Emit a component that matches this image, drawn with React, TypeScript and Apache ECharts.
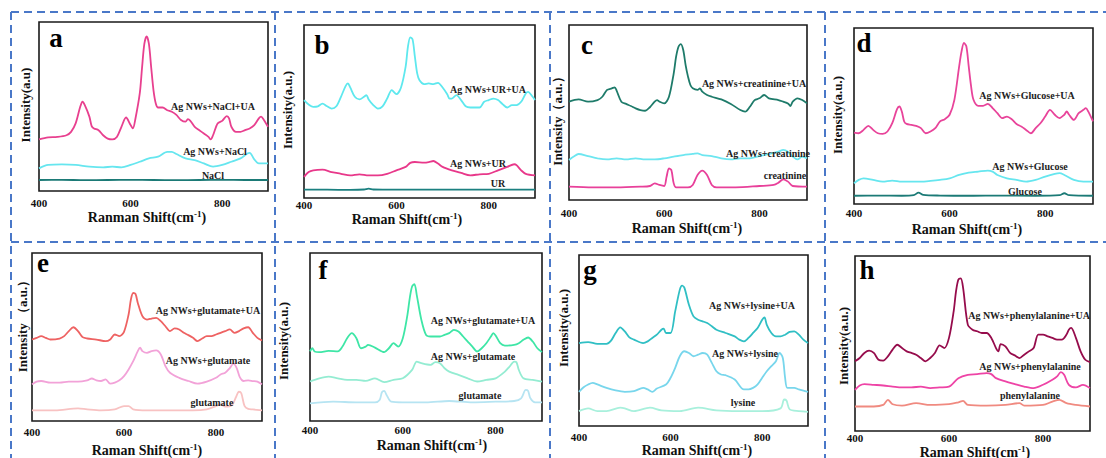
import React, { useEffect, useRef } from 'react';
import * as echarts from 'echarts';

const FONT = 'Liberation Serif, Times New Roman, serif';
const xTickValues = [400, 600, 800];

// ---------- panel a ----------
const aUA = [[400,30.5],[420,31.7],[440,32],[460,33],[470,35],[480,40],[490,49.8],[495,52.8],[500,50.8],[510,44],[515,38.4],[520,37],[530,36],[540,33],[550,31],[560,30.5],[570,32],[580,38],[590,43.5],[600,39],[605,37],[610,42],[620,57.7],[625,73],[630,87],[635,91.5],[640,87],[645,73],[650,59.6],[655,51.8],[660,49.4],[670,49.4],[680,47.8],[690,46.9],[700,45],[710,42],[720,41],[725,42.5],[730,41.7],[740,38],[750,36],[760,34],[770,32],[775,30.5],[780,33],[790,40],[800,41.5],[810,44.3],[815,43],[820,38],[830,35],[840,35],[850,36],[860,37],[870,39],[880,43],[885,44],[890,42.5],[900,38]];
const aNaClAg = [[400,13.4],[420,15.4],[450,15.7],[480,15.4],[510,14.4],[540,14],[560,14.4],[580,14],[600,15.4],[620,17.3],[640,19.3],[660,20.3],[680,23.2],[690,23.2],[700,21.9],[720,19.3],[740,18.3],[760,16.3],[780,14.4],[800,15.4],[820,17.3],[840,19.3],[855,22.2],[860,22.6],[870,18.7],[880,16.3],[900,16.3]];
const aNaCl = [[400,6.5],[450,6.6],[500,6.4],[550,6.5],[600,6.6],[650,6.5],[700,6.4],[750,6.5],[800,6.6],[850,6.5],[900,6.5]];

// ---------- panel b ----------
const bUA = [[400,56.6],[420,52.7],[430,53],[440,54.6],[450,53],[460,51.7],[470,53],[480,58.5],[490,64.7],[495,66.2],[500,63.9],[510,58.5],[520,57],[530,58.5],[535,59.5],[540,57],[550,53.7],[560,51.7],[570,53],[580,57.5],[590,62.4],[600,60],[610,63.9],[620,75.9],[625,87.5],[630,92.9],[635,91.7],[640,81.7],[645,72],[650,68],[660,65.8],[670,66.2],[680,65.8],[690,66.6],[700,63.9],[710,60],[715,57.5],[720,57.5],[730,59.5],[740,56.6],[750,53],[760,52.3],[780,52.3],[790,55.6],[800,56.6],[810,57.5],[820,56.6],[830,54.2],[840,52.3],[850,53.7],[860,53.7],[870,55.6],[880,60.4],[885,61.4],[895,58.5],[900,56.6]];
const bURAg = [[400,12.2],[410,15],[420,16],[440,16.4],[460,15],[480,14],[500,13.1],[520,13.7],[540,13.1],[560,13.1],[580,14],[600,16],[620,18],[630,20.3],[640,20.8],[660,20.5],[670,20.8],[680,21.4],[690,19.9],[700,18],[720,16],[740,14.5],[760,13.1],[780,13.7],[800,14],[820,16],[840,18],[855,19.5],[860,19],[870,16],[880,14],[900,13.1]];
const bUR = [[400,4.8],[450,4.8],[500,4.7],[530,4.9],[540,5.4],[550,4.9],[600,4.8],[700,4.8],[800,4.8],[900,4.8]];

// ---------- panel c ----------
const cUA = [[400,56.2],[420,57.5],[440,56.2],[460,57.1],[470,59],[480,62.9],[490,63.8],[496,64.4],[500,62.5],[510,56.2],[520,54.9],[530,53.7],[540,52.4],[550,51.4],[560,51],[570,53],[580,56.2],[585,57.1],[590,56.2],[600,55.2],[610,59],[620,72.4],[625,81.9],[630,87.6],[635,89.1],[640,85.7],[645,77.1],[650,70.5],[655,65.7],[660,63.8],[670,62.9],[675,63.8],[680,61.9],[690,60],[700,59],[720,57.5],[740,54.9],[760,51.4],[770,50.5],[780,53.3],[790,57.1],[800,58.1],[810,60],[820,58.1],[840,57.1],[850,56.2],[860,55.2],[865,53.7],[870,56.2],[880,58.1],[890,57.1],[900,55.2]];
const cCreAg = [[400,22.9],[410,24.8],[420,26.3],[440,25.1],[460,23.8],[480,23.2],[500,23.8],[520,23.2],[540,23.8],[560,23.2],[580,23.2],[600,23.8],[620,24.8],[640,25.7],[660,26.3],[670,26.7],[680,25.7],[700,25.1],[720,23.8],[740,23.2],[760,23.8],[780,23.8],[800,25.1],[820,26.3],[840,27.6],[850,28.6],[860,27.6],[870,24.8],[880,23.2],[890,24.8],[900,23.8]];
const cCre = [[400,7.6],[450,7.2],[500,7.2],[550,7.6],[570,8],[580,9.5],[590,8.6],[600,8],[605,13.3],[610,18.1],[615,17.1],[620,9.5],[625,7.2],[650,7.2],[660,8.6],[670,14.3],[680,16.8],[690,14.3],[700,8.6],[710,7.2],[750,7.2],[800,8],[830,8.6],[840,9.9],[850,11.8],[860,10.5],[870,8],[900,7.6]];

// ---------- panel d ----------
const dUA = [[400,40.6],[410,40.2],[420,42.1],[430,44.4],[440,42.1],[450,40.2],[460,39.8],[470,41.2],[480,45.9],[490,53.9],[495,55.4],[500,52.6],[505,46.9],[510,45.5],[520,45],[530,44.4],[540,43.1],[550,40.2],[560,41.2],[570,43.1],[580,46.9],[590,48.2],[600,50.7],[610,59.2],[620,78.2],[625,86.7],[630,91.5],[635,89.6],[640,78.2],[645,66.8],[650,59.2],[660,55.8],[670,55.8],[680,56.9],[690,54.5],[700,51.6],[710,48.8],[720,49.7],[730,48.2],[740,45.5],[750,44],[760,42.1],[770,40.2],[780,43.1],[790,45.9],[800,49.7],[810,53.5],[820,50.7],[830,48.8],[840,50.7],[845,52.6],[850,50.7],[860,47.8],[870,51.6],[880,53.5],[885,54.5],[890,52.6],[900,46.9]];
const dGluAg = [[400,11.8],[410,13.7],[420,14.6],[440,13.7],[460,12.7],[480,13.3],[500,12.7],[520,12.7],[540,12.7],[560,13.1],[580,13.7],[600,14.6],[620,16.5],[640,17.8],[660,18.4],[680,19],[690,18.4],[700,16.5],[720,14.6],[740,13.7],[760,12.7],[780,13.7],[800,15.6],[820,17.1],[830,17.5],[840,16.5],[860,13.7],[880,12.7],[900,12.7]];
const dGlu = [[400,4.7],[450,4.8],[500,4.7],[525,5],[535,6.5],[545,5.2],[580,4.8],[650,4.7],[700,4.8],[780,4.7],[830,5],[840,6.1],[850,5],[900,4.7]];

// ---------- panel e ----------
const eUA = [[400,48.5],[410,49.5],[420,50.5],[430,49.5],[440,48.5],[460,49.1],[470,50.5],[480,53.5],[490,55.8],[500,53.5],[510,49.9],[520,49.1],[540,48.5],[560,47.5],[570,48.5],[580,51.5],[590,50.5],[600,53.1],[610,63.4],[615,72.3],[620,76.2],[625,75.6],[630,70.3],[640,62.4],[650,60.4],[660,61],[670,61.4],[680,59.4],[690,56.4],[700,53.5],[710,55.1],[720,54.5],[730,52.5],[740,51.1],[750,49.5],[760,47.5],[770,49.1],[780,50.5],[790,50.5],[800,51.5],[810,52.5],[820,53.5],[830,54.5],[840,52.5],[850,53.5],[860,55.1],[870,55.8],[880,52.5],[890,49.5],[900,47.9]];
const eGluAg = [[400,21.8],[410,23.4],[420,23.8],[440,22.8],[460,22.8],[480,23.4],[500,23.4],[520,24.2],[530,25.3],[540,24.2],[550,23.8],[560,24.8],[570,22.2],[580,22.8],[590,24.2],[600,26.7],[610,30.7],[620,35.6],[630,41.6],[635,43.6],[640,41.6],[650,40.6],[660,41.6],[670,42],[680,39.6],[690,32.7],[700,28.7],[720,25.7],[740,23.8],[760,22.2],[780,23.4],[800,25.7],[810,27.7],[820,28.7],[830,31.5],[838,34.1],[845,31.5],[852,26],[860,23.8],[870,24.2],[880,23.8],[890,23.4],[900,21.8]];
const eGlu = [[400,6.3],[450,6.3],[500,7.5],[520,6.9],[550,6.3],[580,6.9],[600,8.9],[610,8.9],[620,6.9],[650,6.3],[700,6.3],[750,6.3],[780,6.9],[800,8.9],[810,9.9],[820,8.5],[835,9.5],[843,14],[850,17.4],[855,16.5],[862,9],[870,7.2],[880,6.9],[900,6.3]];

// ---------- panel f ----------
const fUA = [[400,41.4],[405,43.3],[410,41.4],[420,41],[440,41.7],[460,41.4],[470,44.3],[480,49.3],[490,52.3],[500,49.3],[510,43.3],[520,44.3],[525,45.3],[540,43.7],[560,41],[570,43.3],[580,46.3],[590,44.3],[600,49.3],[610,63.2],[615,73.2],[620,80.1],[625,81.5],[630,75.1],[640,60.2],[650,51.3],[660,50.3],[680,50.3],[690,51.3],[700,52.3],[710,54.3],[720,53.3],[730,50.3],[740,47.3],[750,44.3],[760,41.4],[770,43.3],[780,46.3],[790,50.3],[795,52.3],[800,50.9],[810,46.3],[820,44.9],[840,45.3],[850,46.3],[860,48.3],[870,49.7],[880,47.3],[890,43.3],[900,41]];
const fGluAg = [[400,23.5],[420,25.4],[440,26.4],[460,25.4],[480,24.5],[500,24.5],[520,23.9],[540,25.4],[560,23.1],[580,24.5],[600,25.4],[620,30.4],[630,35.4],[640,34.4],[660,33.4],[670,35],[680,34.4],[690,31.4],[700,29.4],[720,27.4],[740,25.4],[760,23.5],[780,24.5],[800,25.4],[820,29.4],[830,32.4],[840,35.4],[845,35],[850,30.4],[860,25.4],[880,24.5],[900,23.5]];
const fGlu = [[400,10.5],[450,11.5],[500,11.1],[540,11.1],[550,12.5],[555,17.1],[560,17.9],[565,15.5],[575,11.5],[600,11.1],[650,11.1],[700,11.9],[750,11.1],[800,11.5],[840,11.9],[855,13.5],[865,18.5],[870,17.9],[875,13.5],[885,11.1],[900,11.1]];

// ---------- panel g ----------
const gUA = [[400,48.5],[420,49.1],[440,48],[460,48],[470,49.9],[480,54.4],[490,57.7],[500,55.3],[510,51.8],[520,50.5],[540,48.5],[550,49.5],[560,51.5],[570,53.4],[580,56.3],[585,56.9],[590,54.4],[600,54.4],[610,67],[620,79.6],[625,82.1],[630,80.9],[640,70.9],[650,64.1],[660,62.1],[670,61.2],[680,60.2],[690,58.3],[700,56.3],[720,54.4],[740,52.4],[750,50.5],[760,49.5],[770,51.5],[780,54.4],[790,57.3],[800,62.1],[805,63.5],[810,59.2],[820,54.4],[830,52.4],[840,52.4],[850,53.4],[860,55],[870,55.3],[880,53.4],[890,50.5],[900,48.5]];
const gLysAg = [[400,20],[410,22.7],[420,24.3],[430,25.2],[440,24.3],[460,22.3],[480,20.8],[500,20],[520,20.4],[540,22.3],[550,21.4],[560,20],[570,21.9],[590,24.3],[600,28.2],[610,34],[620,40.8],[630,43.7],[640,42.7],[650,40.8],[660,41.7],[670,42.7],[680,41.7],[690,36.9],[700,32],[710,30.1],[720,29.7],[740,27.2],[760,21.4],[770,21.4],[780,22.3],[790,24.3],[800,28.2],[810,32],[820,35],[830,37.9],[838,42.7],[845,39.8],[850,28.2],[855,22.3],[870,22.3],[880,21.4],[900,20]];
const gLys = [[400,8.7],[420,10.3],[440,8.7],[460,8.7],[490,10.7],[500,10.3],[520,8.7],[555,10.7],[580,9.1],[620,8.7],[660,10.7],[700,9.1],[750,8.7],[800,8.7],[840,10.3],[848,15.5],[853,14.9],[860,9.7],[880,8.7],[900,8.3]];

// ---------- panel h ----------
const hUA = [[400,39.8],[410,41.7],[420,44.6],[430,45.9],[440,44.6],[450,40.7],[460,40.2],[470,42.6],[480,46.5],[490,49.3],[500,47.4],[510,45.5],[520,44.6],[530,43.6],[540,41.7],[550,39.8],[560,41.7],[570,44.6],[580,48.9],[590,47.4],[600,53.2],[610,68.5],[615,79.9],[620,86.6],[625,87.2],[630,81.8],[640,60.8],[650,57.9],[660,57],[670,56],[680,56],[690,53.2],[700,47.4],[705,45.5],[710,49.7],[720,48.4],[730,44.6],[740,43.2],[750,41.7],[760,43.6],[770,45.5],[780,47.4],[790,55.1],[800,55.1],[810,54.1],[820,53.2],[830,52.2],[840,52.2],[850,55.1],[855,57.9],[860,58.9],[870,53.2],[880,45.5],[890,40.7],[900,39.4]];
const hPheAg = [[400,23.5],[410,26],[420,26.8],[440,26.4],[460,26],[480,25.4],[500,24.9],[520,24.9],[540,25.4],[560,24.5],[580,24.9],[600,25.4],[620,30.2],[640,32.1],[660,32.5],[680,33.1],[690,32.5],[700,30.2],[720,28.3],[740,26.8],[760,25.4],[780,24.5],[800,26.4],[820,29.3],[830,31.2],[838,33.7],[845,32.1],[855,26.4],[870,24.9],[885,26.4],[900,24.5]];
const hPhe = [[400,14],[440,14],[460,14.9],[470,17.8],[480,15.3],[500,14.5],[530,15.9],[560,14.9],[600,15.3],[620,16.4],[630,17.2],[640,14.9],[680,14.5],[720,14.9],[750,15.9],[760,14.5],[800,14.9],[820,16.8],[835,17.8],[850,15.9],[870,14.9],[900,14]];

const yTitleParen = 'Intensity(a.u.)';
const yTitleFull = 'Intensity\uFF08a.u.\uFF09';

type SeriesCfg = { name: string; data: number[][]; color: string; label: [number, number] };
type PanelCfg = {
  letter: string;
  grid: { left: number; top: number; width: number; height: number };
  margin: number;
  letterPos: [number, number];
  xTitle: string;
  xTitlePos: [number, number];
  yTitle: string;
  yTitlePos: [number, number];
  series: SeriesCfg[];
};

const panels: PanelCfg[] = [
  { letter: 'a', grid: { left: 39, top: 22, width: 229, height: 169 }, margin: 6, letterPos: [56, 38],
    xTitle: 'Ranman Shift(cm', xTitlePos: [147, 217], yTitle: 'Intensity(a.u)', yTitlePos: [25, 105],
    series: [
      { name: 'Ag NWs+NaCl+UA', data: aUA, color: '#e8408f', label: [213, 106] },
      { name: 'Ag NWs+NaCl', data: aNaClAg, color: '#66e6ef', label: [215, 151] },
      { name: 'NaCl', data: aNaCl, color: '#1b7a76', label: [213, 175] },
    ] },
  { letter: 'b', grid: { left: 304, top: 25, width: 231, height: 173 }, margin: 1, letterPos: [322, 45],
    xTitle: 'Raman Shift(cm', xTitlePos: [407, 219], yTitle: yTitleParen, yTitlePos: [287, 110],
    series: [
      { name: 'Ag NWs+UR+UA', data: bUA, color: '#5ee8ee', label: [488, 89] },
      { name: 'Ag NWs+UR', data: bURAg, color: '#e8388a', label: [478, 163] },
      { name: 'UR', data: bUR, color: '#1b8080', label: [498, 183] },
    ] },
  { letter: 'c', grid: { left: 569, top: 25, width: 238, height: 175 }, margin: 7, letterPos: [587, 45],
    xTitle: 'Raman Shift(cm', xTitlePos: [687, 228], yTitle: yTitleFull, yTitlePos: [557, 118],
    series: [
      { name: 'Ag NWs+creatinine+UA', data: cUA, color: '#1e7b6a', label: [754, 83] },
      { name: 'Ag NWs+creatinine', data: cCreAg, color: '#6de6f0', label: [768, 153] },
      { name: 'creatinine', data: cCre, color: '#e8409a', label: [785, 175] },
    ] },
  { letter: 'd', grid: { left: 854, top: 28, width: 239, height: 176 }, margin: 3, letterPos: [864, 43],
    xTitle: 'Raman Shift(cm', xTitlePos: [967, 229], yTitle: yTitleParen, yTitlePos: [837, 115],
    series: [
      { name: 'Ag NWs+Glucose+UA', data: dUA, color: '#e8449a', label: [1027, 95] },
      { name: 'Ag NWs+Glucose', data: dGluAg, color: '#66e6ef', label: [1030, 166] },
      { name: 'Glucose', data: dGlu, color: '#1b7a76', label: [1025, 191] },
    ] },
  { letter: 'e', grid: { left: 32, top: 253, width: 230, height: 168 }, margin: 5, letterPos: [43, 263],
    xTitle: 'Raman Shift(cm', xTitlePos: [147, 450], yTitle: 'Intensity \uFF08a.u.\uFF09', yTitlePos: [22, 323],
    series: [
      { name: 'Ag NWs+glutamate+UA', data: eUA, color: '#ee6262', label: [208, 310] },
      { name: 'Ag NWs+glutamate', data: eGluAg, color: '#f2a2d8', label: [208, 360] },
      { name: 'glutamate', data: eGlu, color: '#f8c2c2', label: [212, 402] },
    ] },
  { letter: 'f', grid: { left: 310, top: 253, width: 232, height: 168 }, margin: 3, letterPos: [323, 270],
    xTitle: 'Raman Shift(cm', xTitlePos: [432, 445], yTitle: yTitleParen, yTitlePos: [283, 341],
    series: [
      { name: 'Ag NWs+glutamate+UA', data: fUA, color: '#3ee6a6', label: [483, 320] },
      { name: 'Ag NWs+glutamate', data: fGluAg, color: '#94ecd2', label: [473, 356] },
      { name: 'glutamate', data: fGlu, color: '#b6e4f2', label: [480, 395] },
    ] },
  { letter: 'g', grid: { left: 579, top: 255, width: 229, height: 171 }, margin: 5, letterPos: [590, 270],
    xTitle: 'Raman Shift(cm', xTitlePos: [697, 450], yTitle: yTitleParen, yTitlePos: [563, 328],
    series: [
      { name: 'Ag NWs+lysine+UA', data: gUA, color: '#30bfc4', label: [752, 305] },
      { name: 'Ag NWs+lysine', data: gLysAg, color: '#78d6ec', label: [745, 353] },
      { name: 'lysine', data: gLys, color: '#a8f0dc', label: [743, 402] },
    ] },
  { letter: 'h', grid: { left: 855, top: 256, width: 235, height: 175 }, margin: 1, letterPos: [867, 270],
    xTitle: 'Raman Shift(cm', xTitlePos: [975, 452], yTitle: yTitleParen, yTitlePos: [843, 346],
    series: [
      { name: 'Ag NWs+phenylalanine+UA', data: hUA, color: '#960c4c', label: [1029, 315] },
      { name: 'Ag NWs+phenylalanine', data: hPheAg, color: '#ee44a6', label: [1030, 366] },
      { name: 'phenylalanine', data: hPhe, color: '#f08a80', label: [1030, 395] },
    ] },
];

const dashedV = [11, 275, 550, 825];
const dashedH = [12, 242];

function buildOption() {
  const grid: any[] = [];
  const xAxis: any[] = [];
  const yAxis: any[] = [];
  const series: any[] = [];
  const graphic: any[] = [];

  dashedH.forEach((y) => {
    graphic.push({ type: 'line', shape: { x1: 11, y1: y, x2: 1106, y2: y }, style: { stroke: '#4a78c8', lineWidth: 2, lineDash: [8, 5] }, z: 1 });
  });
  dashedV.forEach((x) => {
    graphic.push({ type: 'line', shape: { x1: x, y1: 12, x2: x, y2: 458 }, style: { stroke: '#4a78c8', lineWidth: 2, lineDash: [8, 5] }, z: 1 });
  });

  panels.forEach((p, i) => {
    grid.push({ ...p.grid, show: true, borderColor: '#1a1a1a', borderWidth: 1.6, containLabel: false });
    xAxis.push({
      type: 'value', gridIndex: i, min: 400, max: 900, interval: 200,
      axisLine: { show: false }, axisTick: { show: false }, splitLine: { show: false },
      axisLabel: {
        margin: p.margin, fontFamily: FONT, fontWeight: 'bold', fontSize: 11, color: '#111',
        formatter: (v: number) => (xTickValues.includes(v) ? String(v) : ''),
      },
    });
    yAxis.push({ type: 'value', gridIndex: i, min: 0, max: 100, show: false });
    p.series.forEach((s) => {
      series.push({
        type: 'line', name: s.name, xAxisIndex: i, yAxisIndex: i, data: s.data,
        showSymbol: false, smooth: 0.3, lineStyle: { color: s.color, width: 1.8 }, itemStyle: { color: s.color },
      });
      graphic.push({
        type: 'text', x: s.label[0], y: s.label[1], z: 10,
        style: { text: s.name, fill: '#222', fontFamily: FONT, fontWeight: 'bold', fontSize: 10, align: 'center', verticalAlign: 'middle' },
      });
    });
    graphic.push({
      type: 'text', x: p.letterPos[0], y: p.letterPos[1], z: 10,
      style: { text: p.letter, fill: '#000', fontFamily: FONT, fontWeight: 'bold', fontSize: 27, align: 'center', verticalAlign: 'middle' },
    });
    graphic.push({
      type: 'text', x: p.xTitlePos[0], y: p.xTitlePos[1], z: 10,
      style: {
        text: p.xTitle + '{s|-1})', fill: '#111', align: 'center', verticalAlign: 'middle',
        fontFamily: FONT, fontWeight: 'bold', fontSize: 14, lineHeight: 15,
        rich: { s: { fontFamily: FONT, fontWeight: 'bold', fontSize: 9, lineHeight: 9, verticalAlign: 'top', fill: '#111', padding: [0, 0, 3, 0] } },
      },
    });
    graphic.push({
      type: 'text', x: p.yTitlePos[0], y: p.yTitlePos[1], rotation: Math.PI / 2, z: 10,
      style: { text: p.yTitle, fill: '#111', fontFamily: FONT, fontWeight: 'bold', fontSize: 13, align: 'center', verticalAlign: 'middle' },
    });
  });

  return { animation: false, backgroundColor: '#ffffff', grid, xAxis, yAxis, series, graphic };
}

export default function App() {
  const ref = useRef<HTMLDivElement>(null);
  useEffect(() => {
    document.body.style.margin = '0';
    if (!ref.current) return;
    const chart = echarts.init(ref.current, undefined, { renderer: 'svg' });
    chart.setOption(buildOption());
    return () => chart.dispose();
  }, []);
  return <div ref={ref} style={{ width: 1106, height: 458 }} />;
}
